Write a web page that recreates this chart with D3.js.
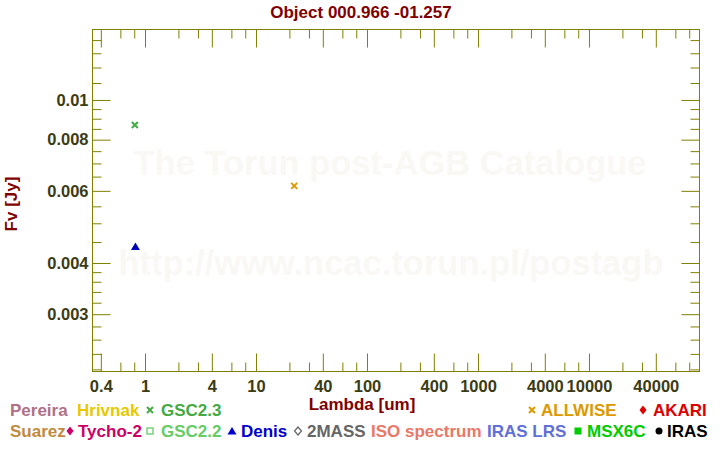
<!DOCTYPE html>
<html><head><meta charset="utf-8">
<script src="https://cdn.jsdelivr.net/npm/d3@7"></script>
<style>
html,body{margin:0;padding:0;background:#fff;}
svg{display:block;font-family:"Liberation Sans",Arial,sans-serif;font-weight:bold;}
</style></head>
<body>
<svg id="chart" width="720" height="450"></svg>
<script>
// ---- data ----
const titleText = "Object 000.966 -01.257";
const xDomain = [0.333, 98000];
const yDomain = [0.00218, 0.0149];
const xMajorTicks = [0.4, 1, 4, 10, 40, 100, 400, 1000, 4000, 10000, 40000];
const xTickLabels = ["0.4", "1", "4", "10", "40", "100", "400", "1000", "4000", "10000", "40000"];
const xMinorTicks = [0.6, 0.8, 2, 3, 6, 8, 20, 30, 60, 80, 200, 300, 600, 800, 2000, 3000, 6000, 8000, 20000, 30000, 60000, 80000];
const yMajorTicks = [0.003, 0.004, 0.006, 0.008, 0.01];
const yTickLabels = ["0.003", "0.004", "0.006", "0.008", "0.01"];
const yMinorTicks = [0.0022, 0.0024, 0.0026, 0.0028, 0.0032, 0.0034, 0.0036, 0.0038,
  0.0045, 0.005, 0.0055, 0.0065, 0.007, 0.0075, 0.0085, 0.009, 0.0095,
  0.011, 0.012, 0.013, 0.014];
const gsc23Lambda = [0.81];
const gsc23Flux = [0.00869];
const denisLambda = [0.82];
const denisFlux = [0.00439];
const allwiseLambda = [22.1];
const allwiseFlux = [0.00617];

// ---- layout ----
const L = 92, R = 699, T = 29, B = 371;
const axisColor = "#808000", tickText = "#3c3c14", darkRed = "#800000";
const FS = 17, TFS = 16.5;

const svg = d3.select("#chart");
const x = d3.scaleLog().domain(xDomain).range([L, R]);
const y = d3.scaleLog().domain(yDomain).range([B, T]);

// watermark
svg.append("text").attr("x", 390).attr("y", 175).attr("text-anchor", "middle")
  .attr("font-size", 34.5).attr("fill", "#faf8f5").text("The Torun post-AGB Catalogue");
svg.append("text").attr("x", 391).attr("y", 275).attr("text-anchor", "middle")
  .attr("font-size", 34.5).attr("fill", "#faf8f5").text("http://www.ncac.torun.pl/postagb");

// title
svg.append("text").attr("x", 361).attr("y", 18).attr("text-anchor", "middle")
  .attr("font-size", FS).attr("fill", darkRed).text(titleText);

const fmtX = d => xTickLabels[xMajorTicks.indexOf(d)];
const fmtY = d => yTickLabels[yMajorTicks.indexOf(d)];

function styleAxis(g) {
  g.select(".domain").remove();
  g.selectAll("line").attr("stroke", axisColor).attr("stroke-width", 1);
  g.selectAll("text").attr("fill", tickText).attr("font-size", TFS)
    .attr("font-family", "Liberation Sans, Arial, sans-serif").attr("font-weight", "bold");
}
// bottom
svg.append("g").attr("transform", `translate(0,${B + 0.5})`)
  .call(d3.axisTop(x).tickValues(xMajorTicks).tickSize(18).tickFormat(""))
  .call(styleAxis);
svg.append("g").attr("transform", `translate(0,${B + 0.5})`)
  .call(d3.axisTop(x).tickValues(xMinorTicks).tickSize(9).tickFormat(""))
  .call(styleAxis);
svg.append("g").attr("transform", `translate(0,${B + 0.5})`)
  .call(d3.axisBottom(x).tickValues(xMajorTicks).tickSize(0).tickPadding(9).tickFormat(fmtX))
  .call(styleAxis);
// top
svg.append("g").attr("transform", `translate(0,${T + 0.5})`)
  .call(d3.axisBottom(x).tickValues(xMajorTicks).tickSize(18).tickFormat(""))
  .call(styleAxis);
svg.append("g").attr("transform", `translate(0,${T + 0.5})`)
  .call(d3.axisBottom(x).tickValues(xMinorTicks).tickSize(9).tickFormat(""))
  .call(styleAxis);
// left
svg.append("g").attr("transform", `translate(${L + 0.5},0)`)
  .call(d3.axisRight(y).tickValues(yMajorTicks).tickSize(18).tickFormat(""))
  .call(styleAxis);
svg.append("g").attr("transform", `translate(${L + 0.5},0)`)
  .call(d3.axisRight(y).tickValues(yMinorTicks).tickSize(9).tickFormat(""))
  .call(styleAxis);
svg.append("g").attr("transform", `translate(${L + 0.5},0)`)
  .call(d3.axisLeft(y).tickValues(yMajorTicks).tickSize(0).tickPadding(4).tickFormat(fmtY))
  .call(styleAxis);
// right
svg.append("g").attr("transform", `translate(${R + 0.5},0)`)
  .call(d3.axisLeft(y).tickValues(yMajorTicks).tickSize(18).tickFormat(""))
  .call(styleAxis);
svg.append("g").attr("transform", `translate(${R + 0.5},0)`)
  .call(d3.axisLeft(y).tickValues(yMinorTicks).tickSize(9).tickFormat(""))
  .call(styleAxis);

// frame
svg.append("rect").attr("x", L + 0.5).attr("y", T + 0.5).attr("width", R - L).attr("height", B - T)
  .attr("fill", "none").attr("stroke", axisColor).attr("stroke-width", 1);

// axis titles
svg.append("text").attr("x", 362).attr("y", 410).attr("text-anchor", "middle")
  .attr("font-size", FS).attr("fill", darkRed).text("Lambda [um]");
svg.append("text").attr("transform", "translate(16.5,204) rotate(-90)").attr("text-anchor", "middle")
  .attr("font-size", FS).attr("fill", darkRed).text("Fv [Jy]");

function marker(g, type, cx, cy, color, s) {
  s = s || 3;
  if (type === "x") {
    g.append("path").attr("d", `M${cx - s},${cy - s}L${cx + s},${cy + s}M${cx - s},${cy + s}L${cx + s},${cy - s}`)
      .attr("stroke", color).attr("stroke-width", 2).attr("fill", "none");
  } else if (type === "tri") {
    g.append("path").attr("d", `M${cx},${cy - 4}L${cx + 4.5},${cy + 3.5}L${cx - 4.5},${cy + 3.5}Z`).attr("fill", color);
  } else if (type === "diamond") {
    g.append("path").attr("d", `M${cx},${cy - 4.5}L${cx + 3.5},${cy}L${cx},${cy + 4.5}L${cx - 3.5},${cy}Z`).attr("fill", color);
  } else if (type === "odiamond") {
    g.append("path").attr("d", `M${cx},${cy - 4}L${cx + 3.5},${cy}L${cx},${cy + 4}L${cx - 3.5},${cy}Z`)
      .attr("fill", "none").attr("stroke", color).attr("stroke-width", 1.2);
  } else if (type === "osquare") {
    g.append("rect").attr("x", cx - 3).attr("y", cy - 3).attr("width", 6).attr("height", 6)
      .attr("fill", "none").attr("stroke", color).attr("stroke-width", 1.3);
  } else if (type === "square") {
    g.append("rect").attr("x", cx - 3.5).attr("y", cy - 3.5).attr("width", 7).attr("height", 7).attr("fill", color);
  } else if (type === "circle") {
    g.append("circle").attr("cx", cx).attr("cy", cy).attr("r", 3.5).attr("fill", color);
  }
}

const pts = svg.append("g");
gsc23Lambda.forEach((l, i) => marker(pts, "x", x(l), y(gsc23Flux[i]), "#44aa44"));
denisLambda.forEach((l, i) => marker(pts, "tri", x(l), y(denisFlux[i]), "#0000bb"));
allwiseLambda.forEach((l, i) => marker(pts, "x", x(l), y(allwiseFlux[i]), "#dd9900"));

// legend
const legendNames = ["Pereira", "Hrivnak", "GSC2.3", "ALLWISE", "AKARI",
  "Suarez", "Tycho-2", "GSC2.2", "Denis", "2MASS", "ISO spectrum", "IRAS LRS", "MSX6C", "IRAS"];
const legendColors = ["#b07088", "#e8c800", "#44aa44", "#dd9900", "#dd0000",
  "#c08a40", "#cc0066", "#66cc66", "#0000cc", "#666666", "#e87868", "#6070d8", "#00cc00", "#000000"];
const legendSymbols = [null, null, "x", "x", "diamond",
  null, "diamond", "osquare", "tri", "odiamond", null, null, "square", "circle"];
const legendTextX = [10, 77, 161, 541, 653, 10, 78, 161, 241, 307, 371, 487, 587, 667];
const legendMarkX = [null, null, 150, 532, 643, null, 70, 150, 232, 298, null, null, 578, 659];
const legendRowY = [416, 416, 416, 416, 416, 437, 437, 437, 437, 437, 437, 437, 437, 437];

const lg = svg.append("g");
legendNames.forEach((n, i) => {
  lg.append("text").attr("x", legendTextX[i]).attr("y", legendRowY[i]).attr("font-size", FS)
    .attr("fill", legendColors[i]).text(n);
  if (legendSymbols[i]) marker(lg, legendSymbols[i], legendMarkX[i], legendRowY[i] - 6, legendColors[i], 3);
});
</script>
</body></html>
